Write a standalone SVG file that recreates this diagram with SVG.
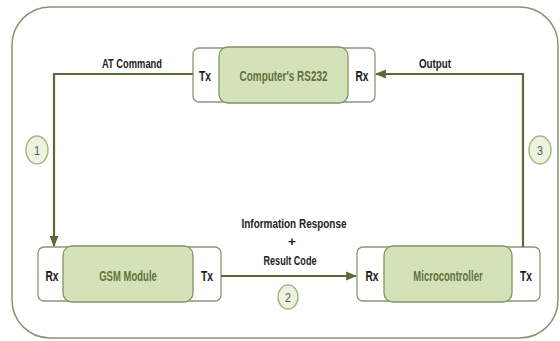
<svg xmlns="http://www.w3.org/2000/svg" width="560" height="341" viewBox="0 0 560 341">
<style>
.frame{fill:#ffffff;stroke:#8c9274;stroke-width:1.5}
.box{fill:#ffffff;stroke:#8e947c;stroke-width:1.3}
.core{fill:#d4e2ba;stroke:#7f9462;stroke-width:1.3}
text{font-family:"Liberation Sans","Arial",sans-serif;text-anchor:middle;font-weight:bold}
.port{font-size:14px;fill:#1a1a1a}
.name{font-size:14px;fill:#5e723c}
.lbl{font-size:13.5px;fill:#222}
.wire{fill:none;stroke:#5a6b38;stroke-width:2.2}
.step{fill:#eef3df;stroke:#a6b786;stroke-width:1.5}
.num{font-size:13px;fill:#555;font-weight:normal}
</style>
<defs>
<marker id="arr" viewBox="0 0 10 10" refX="9" refY="5" markerWidth="5" markerHeight="5" orient="auto" markerUnits="strokeWidth">
<path d="M0,1 L10,5 L0,9 z" fill="#5a6b38"/>
</marker>
</defs>
<rect class="frame" x="12" y="7" width="546" height="331" rx="38" ry="38"/>
<g id="rs232">
<rect class="box" x="193" y="48" width="182" height="54" rx="6"/>
<rect class="core" x="219" y="47" width="129" height="56" rx="9"/>
<text class="port" x="205" y="80.5" textLength="12" lengthAdjust="spacingAndGlyphs">Tx</text>
<text class="name" transform="translate(283.5 80.5) scale(0.71 1)">Computer's RS232</text>
<text class="port" x="362" y="80.5" textLength="13" lengthAdjust="spacingAndGlyphs">Rx</text>
</g>
<g id="gsm">
<rect class="box" x="38" y="247" width="183" height="54" rx="6"/>
<rect class="core" x="63" y="246" width="130" height="56" rx="9"/>
<text class="port" x="52" y="280.5" textLength="13" lengthAdjust="spacingAndGlyphs">Rx</text>
<text class="name" transform="translate(128 280.5) scale(0.68 1)">GSM Module</text>
<text class="port" x="207" y="280.5" textLength="12" lengthAdjust="spacingAndGlyphs">Tx</text>
</g>
<g id="mcu">
<rect class="box" x="357" y="247" width="183" height="54" rx="6"/>
<rect class="core" x="384" y="246" width="128" height="56" rx="9"/>
<text class="port" x="372" y="280.5" textLength="13" lengthAdjust="spacingAndGlyphs">Rx</text>
<text class="name" transform="translate(448 280.5) scale(0.68 1)">Microcontroller</text>
<text class="port" x="526" y="280.5" textLength="12" lengthAdjust="spacingAndGlyphs">Tx</text>
</g>
<g id="connectors">
<path class="wire" d="M193,74 H54 V246" marker-end="url(#arr)"/>
<path class="wire" d="M523,247 V74 H376" marker-end="url(#arr)"/>
<path class="wire" d="M221,276 H356" marker-end="url(#arr)"/>
<text class="lbl" x="132" y="68" textLength="60" lengthAdjust="spacingAndGlyphs">AT Command</text>
<text class="lbl" x="435" y="68" textLength="32" lengthAdjust="spacingAndGlyphs">Output</text>
<text class="lbl" x="294" y="228" textLength="105" lengthAdjust="spacingAndGlyphs">Information Response</text>
<text class="lbl" x="292" y="246">+</text>
<text class="lbl" x="290" y="265" textLength="53" lengthAdjust="spacingAndGlyphs">Result Code</text>
</g>
<g id="step1">
<ellipse class="step" cx="37" cy="150" rx="11" ry="14"/>
<text class="num" x="37" y="154.5" textLength="6" lengthAdjust="spacingAndGlyphs">1</text>
</g>
<g id="step2">
<ellipse class="step" cx="288" cy="297" rx="10" ry="12"/>
<text class="num" x="288" y="301.5" textLength="6" lengthAdjust="spacingAndGlyphs">2</text>
</g>
<g id="step3">
<ellipse class="step" cx="540" cy="150" rx="11" ry="14"/>
<text class="num" x="540" y="154.5" textLength="6" lengthAdjust="spacingAndGlyphs">3</text>
</g>
</svg>
